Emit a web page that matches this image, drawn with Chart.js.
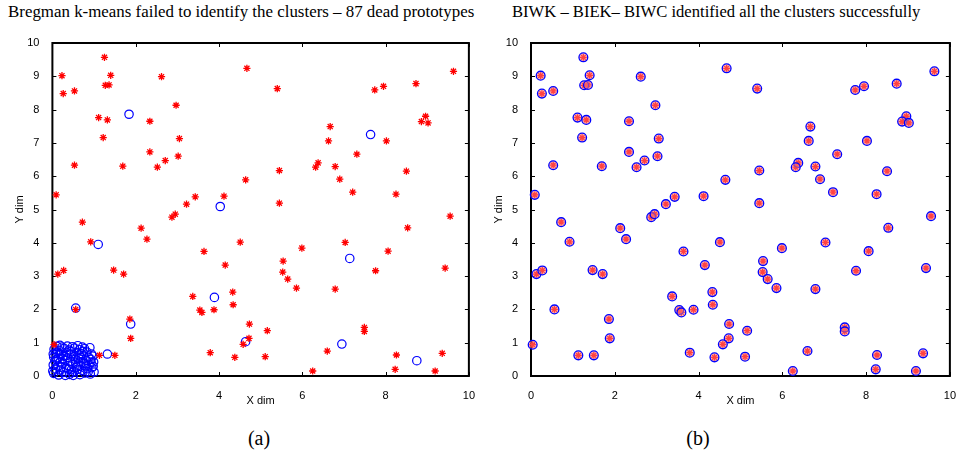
<!DOCTYPE html>
<html>
<head>
<meta charset="utf-8">
<script src="https://cdn.jsdelivr.net/npm/chart.js@4.4.1/dist/chart.umd.min.js"></script>
<style>
  body { margin: 0; background: #fff; width: 961px; height: 459px; position: relative; overflow: hidden; }
  .txt { position: absolute; font-family: 'Liberation Serif', 'Times New Roman', serif; color: #000; white-space: nowrap; line-height: 1; }
  .box { position: absolute; top: 30px; height: 390px; }
</style>
</head>
<body>
<div class="txt" style="left:8px; top:4px; font-size:16.9px;">Bregman k-means failed to identify the clusters – 87 dead prototypes</div>
<div class="txt" style="left:512px; top:4px; font-size:16.6px;">BIWK – BIEK– BIWC identified all the clusters successfully</div>
<div class="box" style="left:0; width:480px;"><canvas id="chartA"></canvas></div>
<div class="box" style="left:480px; width:481px;"><canvas id="chartB"></canvas></div>
<div class="txt" style="left:259px; top:428px; font-size:20px; transform:translateX(-50%);">(a)</div>
<div class="txt" style="left:698px; top:428px; font-size:20px; transform:translateX(-50%);">(b)</div>
<script>
// data points (same set in both panels)
const dataX = [1.25, 0.23, 1.40, 2.62, 4.67, 1.27, 1.36, 0.26, 0.53, 2.97, 1.11, 1.32, 2.34, 1.22, 3.05, 2.34, 2.71, 3.02, 0.53, 1.69,
  2.52, 4.64, 0.09, 3.43, 4.12, 3.22, 9.63, 5.40, 7.74, 7.95, 8.73, 8.96, 8.86, 9.02, 6.67, 6.63, 8.02, 7.31, 6.38, 6.32,
  6.79, 5.45, 8.50, 6.90, 7.21, 8.25, 5.45, 0.72, 2.13, 2.87, 2.95, 0.92, 2.27, 4.51, 3.64, 4.15, 0.13, 0.27, 1.47, 1.71,
  4.33, 3.37, 4.34, 0.56, 3.54, 3.59, 3.88, 1.86, 4.73, 1.88, 0.04, 4.72, 4.58, 3.79, 1.13, 1.50, 4.38, 9.55, 8.53, 5.99,
  7.03, 8.06, 5.54, 5.53, 5.65, 7.76, 9.43, 5.86, 6.79, 5.16, 7.49, 7.49, 6.60, 5.11, 8.26, 9.36, 6.25, 8.23, 9.19];
const dataY = [9.57, 9.02, 9.03, 8.99, 9.24, 8.73, 8.74, 8.48, 8.56, 8.13, 7.76, 7.69, 7.65, 7.16, 7.13, 6.73, 6.47, 6.60, 6.33, 6.30,
  6.27, 5.89, 5.44, 5.38, 5.40, 5.16, 9.15, 8.63, 8.59, 8.70, 8.78, 7.80, 7.64, 7.60, 7.49, 7.06, 7.06, 6.66, 6.40, 6.27,
  6.29, 6.17, 6.15, 5.91, 5.52, 5.46, 5.19, 4.62, 4.44, 4.77, 4.86, 4.03, 4.11, 4.02, 3.74, 3.33, 3.06, 3.17, 3.18, 3.06,
  2.52, 2.39, 2.14, 2.00, 1.98, 1.91, 1.99, 1.71, 1.56, 1.13, 0.94, 1.13, 0.95, 0.70, 0.62, 0.62, 0.56, 4.80, 4.45, 3.84,
  4.01, 3.75, 3.45, 3.12, 2.91, 3.16, 3.24, 2.64, 2.61, 1.36, 1.46, 1.34, 0.75, 0.58, 0.63, 0.68, 0.15, 0.20, 0.15];

// Bregman k-means prototypes that moved away from the origin
const aliveX = [1.84, 4.03, 1.10, 7.64, 7.14, 3.89, 4.64, 6.95, 8.75, 0.56, 1.88, 1.32];
const aliveY = [7.86, 5.09, 3.95, 7.25, 3.53, 2.36, 1.03, 0.96, 0.46, 2.04, 1.56, 0.66];

// dead prototypes stuck near the origin
const deadX = [0.03, 0.15, 0.27, 0.41, 0.52, 0.66, 0.78, 0.91, 1.00, 0.07, 0.19, 0.33, 0.46, 0.58, 0.71, 0.84, 0.95,
  0.02, 0.13, 0.24, 0.38, 0.49, 0.62, 0.75, 0.88, 0.98, 0.06, 0.18, 0.30, 0.43, 0.55, 0.68, 0.81, 0.93,
  0.03, 0.14, 0.26, 0.37, 0.51, 0.63, 0.74, 0.87, 0.97, 0.08, 0.21, 0.34, 0.45, 0.59, 0.70, 0.83, 0.94,
  0.04, 0.16, 0.28, 0.40, 0.53, 0.65, 0.77, 0.90, 0.11, 0.23, 0.36, 0.48, 0.61, 0.72,
  0.01, 0.10, 0.22, 0.35, 0.47, 0.56, 0.69, 0.80, 0.92, 0.12, 0.31, 0.44, 0.60, 0.73, 0.86, 0.25, 0.39, 0.64, 0.02, 0.18, 0.99, 0.50];
const deadY = [0.08, 0.03, 0.11, 0.05, 0.14, 0.04, 0.09, 0.06, 0.12, 0.21, 0.18, 0.24, 0.19, 0.27, 0.17, 0.22, 0.25,
  0.33, 0.30, 0.37, 0.31, 0.35, 0.32, 0.38, 0.34, 0.29, 0.45, 0.42, 0.48, 0.44, 0.50, 0.43, 0.47, 0.41,
  0.57, 0.54, 0.60, 0.55, 0.58, 0.53, 0.61, 0.56, 0.60, 0.68, 0.65, 0.71, 0.66, 0.70, 0.67, 0.72, 0.66,
  0.80, 0.77, 0.83, 0.78, 0.84, 0.79, 0.82, 0.85, 0.89, 0.87, 0.90, 0.88, 0.91, 0.87,
  0.15, 0.50, 0.27, 0.62, 0.10, 0.39, 0.55, 0.30, 0.50, 0.72, 0.02, 0.74, 0.20, 0.74, 0.13, 0.52, 0.20, 0.63, 0.66, 0.92, 0.42, 0.02];

const xTicks = [0, 2, 4, 6, 8, 10];
const yTicks = [0, 1, 2, 3, 4, 5, 6, 7, 8, 9, 10];

const toPoints = (xs, ys) => xs.map((v, i) => ({ x: v, y: ys[i] }));

Chart.defaults.font.family = "'Liberation Sans', Arial, sans-serif";
Chart.defaults.font.size = 11;
Chart.defaults.color = '#000';

// matlab style: closed box with inward ticks
const matlabBox = {
  id: 'matlabBox',
  beforeDatasetsDraw(chart) {
    const { ctx, chartArea: a, scales } = chart;
    ctx.save();
    ctx.strokeStyle = '#000';
    ctx.lineWidth = 1;
    ctx.beginPath();
    xTicks.forEach(v => {
      const px = Math.round(scales.x.getPixelForValue(v)) + 0.5;
      ctx.moveTo(px, a.bottom); ctx.lineTo(px, a.bottom - 4);
      ctx.moveTo(px, a.top); ctx.lineTo(px, a.top + 4);
    });
    yTicks.forEach(v => {
      const py = Math.round(scales.y.getPixelForValue(v)) + 0.5;
      ctx.moveTo(a.left, py); ctx.lineTo(a.left + 4, py);
      ctx.moveTo(a.right, py); ctx.lineTo(a.right - 4, py);
    });
    ctx.stroke();
    ctx.lineWidth = 2;
    ctx.strokeRect(a.left, a.top, a.right - a.left, a.bottom - a.top);
    ctx.restore();
  }
};

function makeScales(yWidth) {
  return {
    x: {
      type: 'linear', min: 0, max: 10,
      afterBuildTicks: s => { s.ticks = xTicks.map(v => ({ value: v })); },
      ticks: { padding: 5, color: '#000' },
      grid: { display: false },
      border: { display: false },
      title: { display: true, text: 'X dim', color: '#000', padding: 0 },
      afterFit: s => { s.height = 32; }
    },
    y: {
      type: 'linear', min: 0, max: 10,
      afterBuildTicks: s => { s.ticks = yTicks.map(v => ({ value: v })); },
      ticks: { padding: 5, color: '#000' },
      grid: { display: false },
      border: { display: false },
      title: { display: true, text: 'Y dim', color: '#000', padding: 0 },
      afterFit: s => { s.width = yWidth; }
    }
  };
}

const baseOptions = (pad, yWidth) => ({
  responsive: true,
  maintainAspectRatio: false,
  animation: false,
  devicePixelRatio: 1,
  layout: { padding: pad },
  plugins: { legend: { display: false }, tooltip: { enabled: false } },
  scales: makeScales(yWidth)
});

new Chart(document.getElementById('chartA'), {
  type: 'scatter',
  data: {
    datasets: [
      {
        label: 'data',
        data: toPoints(dataX, dataY),
        pointStyle: 'star', pointRadius: 3.6, borderColor: '#ff0000', borderWidth: 1.3,
        backgroundColor: '#ff0000', clip: false
      },
      {
        label: 'prototypes',
        data: toPoints(deadX, deadY).concat(toPoints(aliveX, aliveY)),
        pointStyle: 'circle', pointRadius: 4.2, borderColor: '#0000ff', borderWidth: 1.2,
        backgroundColor: 'rgba(0,0,0,0)', clip: false
      }
    ]
  },
  options: baseOptions({ left: 13, right: 8.5, top: 13, bottom: 12 }, 39.4),
  plugins: [matlabBox]
});

new Chart(document.getElementById('chartB'), {
  type: 'scatter',
  data: {
    datasets: [
      {
        label: 'prototypes',
        data: toPoints(dataX, dataY),
        pointStyle: 'circle', pointRadius: 4.4, borderColor: '#0000ff', borderWidth: 1.3,
        backgroundColor: 'rgba(255,120,120,0.55)', clip: false
      },
      {
        label: 'data',
        data: toPoints(dataX, dataY),
        pointStyle: 'star', pointRadius: 3.4, borderColor: '#ff0000', borderWidth: 1.3,
        backgroundColor: '#ff0000', clip: false
      }
    ]
  },
  options: baseOptions({ left: 12, right: 10, top: 13, bottom: 12 }, 39),
  plugins: [matlabBox]
});
</script>
</body>
</html>
